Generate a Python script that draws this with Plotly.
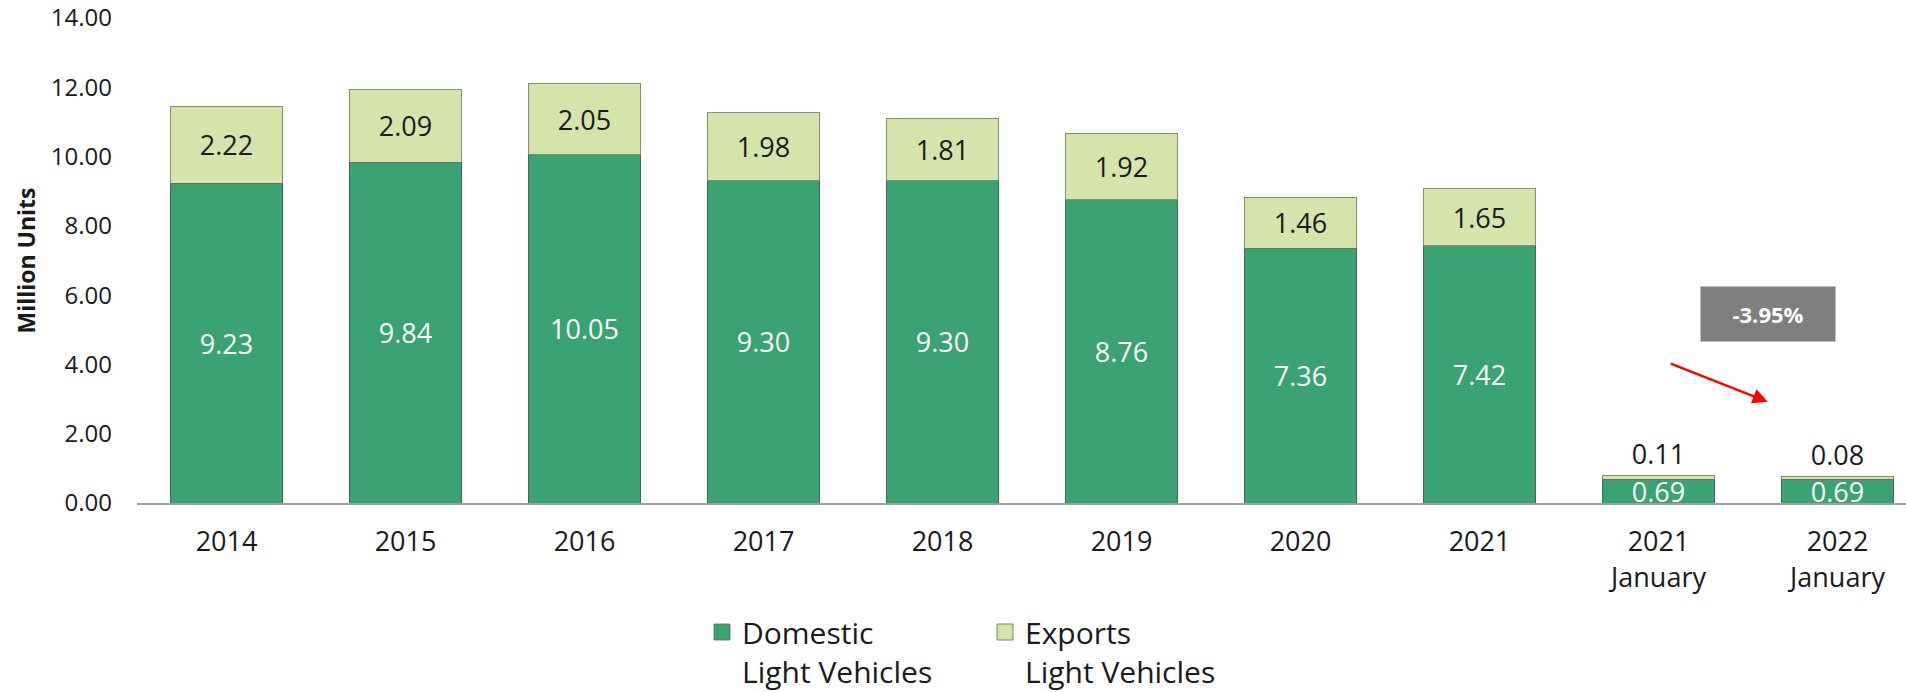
import plotly.graph_objects as go

categories = ["2014", "2015", "2016", "2017", "2018", "2019", "2020", "2021",
              "2021<br>January", "2022<br>January"]
domestic = [9.23, 9.84, 10.05, 9.30, 9.30, 8.76, 7.36, 7.42, 0.69, 0.69]
exports = [2.22, 2.09, 2.05, 1.98, 1.81, 1.92, 1.46, 1.65, 0.11, 0.08]
y_ticks = [0, 2, 4, 6, 8, 10, 12, 14]
change_label = "-3.95%"

FONT = "Open Sans"
DOM_COLOR = "#3aa273"
EXP_COLOR = "#d4e4ab"

x_idx = list(range(len(categories)))

W, H = 1906, 692
ML, MT, MB = 137, 18, 189

fig = go.Figure()

fig.add_trace(go.Bar(
    x=x_idx, y=domestic, name="Domestic<br>Light Vehicles",
    marker=dict(color=DOM_COLOR, line=dict(color="rgba(60,90,70,0.75)", width=1)),
    text=[f"{v:.2f}" for v in domestic], textposition="inside",
    insidetextanchor="middle", textangle=0, constraintext="none",
    textfont=dict(family=FONT, size=27, color="white"),
    showlegend=False, cliponaxis=False,
))

exp_pos = ["inside" if v > 0.5 else "outside" for v in exports]
fig.add_trace(go.Bar(
    x=x_idx, y=exports, name="Exports<br>Light Vehicles",
    marker=dict(color=EXP_COLOR, line=dict(color="rgba(110,120,90,0.8)", width=1)),
    text=[f"{v:.2f}" for v in exports], textposition=exp_pos,
    insidetextanchor="middle", textangle=0, constraintext="none",
    textfont=dict(family=FONT, size=27, color="#1a1a1a"),
    showlegend=False, cliponaxis=False,
))

# legend entries with square symbols
for nm, col in [("Domestic<br>Light Vehicles", DOM_COLOR), ("Exports<br>Light Vehicles", EXP_COLOR)]:
    fig.add_trace(go.Scatter(
        x=[None], y=[None], mode="markers", name=nm,
        marker=dict(symbol="square", size=20, color=col,
                    line=dict(color="rgba(90,110,80,0.8)", width=1)),
        showlegend=True,
    ))

fig.update_layout(
    width=W, height=H,
    margin=dict(l=ML, r=0, t=MT, b=MB, autoexpand=False),
    barmode="stack", bargap=0.37,
    plot_bgcolor="white", paper_bgcolor="white",
    font=dict(family=FONT, color="#1a1a1a"),
    xaxis=dict(
        tickmode="array", tickvals=x_idx, ticktext=categories,
        range=[-0.5, -0.5 + (W - ML) / 179],
        showline=True, linecolor="#a0a0a0", linewidth=2,
        showgrid=False, zeroline=False, ticks="", automargin=False,
        tickfont=dict(family=FONT, size=27, color="#1a1a1a"),
        ticklabelstandoff=14, ticklabeloverflow="allow",
    ),
    yaxis=dict(
        range=[0, 14], tickvals=y_ticks, tickformat=".2f",
        showgrid=False, zeroline=False, showline=False, ticks="", automargin=False,
        tickfont=dict(family=FONT, size=24, color="#1a1a1a"),
        ticklabelstandoff=24, ticklabeloverflow="allow",
        title=dict(text="<b>Million Units</b>", font=dict(family=FONT, size=23, color="#1a1a1a"),
                   standoff=8),
    ),
    legend=dict(
        orientation="h", traceorder="normal",
        xref="container", yref="container",
        x=702 / W, xanchor="left",
        y=(H - 606) / H, yanchor="top", valign="top",
        font=dict(family=FONT, size=30, color="#1a1a1a"),
        entrywidth=238, entrywidthmode="pixels",
        bgcolor="rgba(0,0,0,0)",
    ),
)

fig.add_annotation(
    x=8.61, y=5.46, xref="x", yref="y", text=f"<b>{change_label}</b>",
    showarrow=False, bgcolor="#7f7f7f", width=132, height=52,
    font=dict(family=FONT, size=22, color="white"),
)
fig.add_annotation(
    x=8.61, y=2.92, ax=8.06, ay=4.04, xref="x", yref="y", axref="x", ayref="y",
    text="", showarrow=True, arrowhead=2, arrowsize=1.2, arrowwidth=2.5, arrowcolor="#ff0000",
)

fig.write_html("out.html", config={"displayModeBar": False},
               post_script="document.body.style.margin='0';")
